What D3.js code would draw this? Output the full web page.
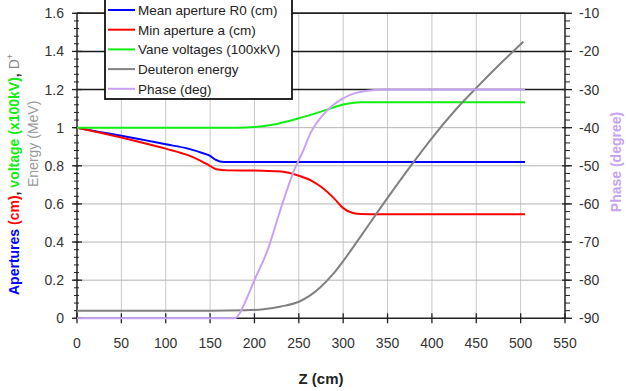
<!DOCTYPE html>
<html>
<head>
<meta charset="utf-8">
<script src="https://cdn.jsdelivr.net/npm/d3@7"></script>
<style>
  body { margin: 0; background: #fff; }
  svg { display: block; font-family: Arial, "Liberation Sans", sans-serif; }
</style>
</head>
<body>
<svg id="chart" width="626" height="391"></svg>
<script>
// data
const zMean = [0, 25, 50, 75, 100, 125, 142, 150, 156, 161, 170, 250, 350, 450, 505];
const meanR0 = [1.0, 0.978, 0.958, 0.936, 0.913, 0.89, 0.866, 0.852, 0.832, 0.823, 0.82, 0.82, 0.82, 0.82, 0.82];

const zMin = [0, 25, 50, 75, 100, 125, 140, 148, 157, 170, 200, 230, 250, 265, 275, 290, 300, 311, 320, 340, 505];
const minA = [1.0, 0.975, 0.948, 0.92, 0.89, 0.856, 0.825, 0.805, 0.782, 0.776, 0.775, 0.77, 0.748, 0.72, 0.69, 0.628, 0.578, 0.552, 0.547, 0.546, 0.546];

const zVane = [0, 180, 200, 220, 250, 275, 290, 300, 310, 320, 505];
const vane = [1.0, 1.0, 1.003, 1.015, 1.049, 1.084, 1.107, 1.122, 1.13, 1.133, 1.133];

const zEnergy = [0, 150, 190, 210, 230, 250, 262, 274, 289, 300, 313, 326.5, 351, 377, 401.6, 425, 450.4, 477, 503];
const energy = [0.04, 0.04, 0.042, 0.048, 0.062, 0.087, 0.118, 0.162, 0.234, 0.3, 0.385, 0.475, 0.638, 0.805, 0.955, 1.085, 1.21, 1.335, 1.451];

const zPhase = [0, 178, 185, 190, 200, 215, 230, 245, 255, 263, 275, 289, 300, 310, 325, 345, 505];
const phase = [-90, -90, -88, -85.5, -80, -72, -61, -51, -46, -41.5, -37.3, -34, -32.3, -31.2, -30.4, -30, -30];

const xTicks = d3.range(0, 551, 50);
const yTicks = [0, 0.2, 0.4, 0.6, 0.8, 1, 1.2, 1.4, 1.6];
const y2Ticks = [-90, -80, -70, -60, -50, -40, -30, -20, -10];

const legendLabels = ["Mean aperture R0 (cm)", "Min aperture a (cm)", "Vane voltages (100xkV)", "Deuteron energy", "Phase (deg)"];
const colors = ["#0000ff", "#ff0000", "#11ee11", "#808080", "#c8a2f2"];

const svg = d3.select("#chart");
const margin = { top: 13.3, right: 61, bottom: 72.7, left: 77 };
const width = 626 - margin.left - margin.right;
const height = 391 - margin.top - margin.bottom;

const chart = svg.append("g").attr("transform", `translate(${margin.left}, ${margin.top})`);

const x = d3.scaleLinear().domain([0, 550]).range([0, width]);
const y = d3.scaleLinear().domain([0, 1.6]).range([height, 0]);
const y2 = d3.scaleLinear().domain([-90, -10]).range([height, 0]);

/*grid*/
chart.append("g").selectAll("line").data(xTicks.slice(1, -1)).enter().append("line")
  .attr("x1", d => x(d)).attr("x2", d => x(d))
  .attr("y1", 0).attr("y2", height)
  .attr("stroke", "#c8c8c8").attr("stroke-width", 1);

chart.append("g").selectAll("line").data(yTicks.slice(1)).enter().append("line")
  .attr("x1", 0).attr("x2", width)
  .attr("y1", d => y(d)).attr("y2", d => y(d))
  .attr("stroke", d => d >= 1.2 ? "#1a1a1a" : "#b4b4b4")
  .attr("stroke-width", d => d >= 1.2 ? 1.5 : 1);

/*axes*/
const tickColor = "#222";
const labelColor = "#333";

// bottom
const xAxis = chart.append("g").attr("transform", `translate(0, ${height})`);
xAxis.append("line").attr("x1", 0).attr("x2", width).attr("stroke", tickColor).attr("stroke-width", 1.5);
xAxis.selectAll(".tk").data(xTicks).enter().append("line")
  .attr("x1", d => x(d)).attr("x2", d => x(d)).attr("y1", -5).attr("y2", 5)
  .attr("stroke", tickColor).attr("stroke-width", 1.3);
xAxis.selectAll("text").data(xTicks).enter().append("text")
  .attr("x", d => x(d)).attr("y", 30)
  .attr("text-anchor", "middle").attr("font-size", 14).attr("fill", labelColor)
  .text(d => d);

// left
const yAxis = chart.append("g");
yAxis.append("line").attr("y1", 0).attr("y2", height).attr("stroke", tickColor).attr("stroke-width", 1.5);
yAxis.selectAll(".mn").data(d3.range(0, 1.6001, 0.04)).enter().append("line")
  .attr("x1", -3).attr("x2", 2).attr("y1", d => y(d)).attr("y2", d => y(d))
  .attr("stroke", tickColor).attr("stroke-width", 1);
yAxis.selectAll(".mj").data(yTicks).enter().append("line")
  .attr("x1", -5).attr("x2", 5).attr("y1", d => y(d)).attr("y2", d => y(d))
  .attr("stroke", tickColor).attr("stroke-width", 1.3);
yAxis.selectAll("text").data(yTicks).enter().append("text")
  .attr("x", -13).attr("y", d => y(d)).attr("dy", "0.36em")
  .attr("text-anchor", "end").attr("font-size", 14).attr("fill", labelColor)
  .text(d => d3.format("~g")(d));

// right
const y2Axis = chart.append("g").attr("transform", `translate(${width}, 0)`);
y2Axis.append("line").attr("y1", 0).attr("y2", height).attr("stroke", tickColor).attr("stroke-width", 1.5);
y2Axis.selectAll(".mn").data(d3.range(-90, -9, 2)).enter().append("line")
  .attr("x1", 0).attr("x2", 5).attr("y1", d => y2(d)).attr("y2", d => y2(d))
  .attr("stroke", tickColor).attr("stroke-width", 1);
y2Axis.selectAll(".mj").data(y2Ticks).enter().append("line")
  .attr("x1", -3).attr("x2", 7).attr("y1", d => y2(d)).attr("y2", d => y2(d))
  .attr("stroke", tickColor).attr("stroke-width", 1.3);
y2Axis.selectAll("text").data(y2Ticks).enter().append("text")
  .attr("x", 14).attr("y", d => y2(d)).attr("dy", "0.36em")
  .attr("text-anchor", "start").attr("font-size", 14).attr("fill", labelColor)
  .text(d => d);

// top border
chart.append("line").attr("x1", 0).attr("x2", width).attr("y1", 0).attr("y2", 0)
  .attr("stroke", tickColor).attr("stroke-width", 1.5);

/*series*/
const series = [
  { z: zMean, v: meanR0, scale: y },
  { z: zMin, v: minA, scale: y },
  { z: zVane, v: vane, scale: y },
  { z: zEnergy, v: energy, scale: y },
  { z: zPhase, v: phase, scale: y2 }
];

series.forEach((s, i) => {
  const line = d3.line()
    .x(d => x(d[0]))
    .y(d => s.scale(d[1]))
    .curve(d3.curveMonotoneX);
  chart.append("path")
    .datum(d3.zip(s.z, s.v))
    .attr("fill", "none")
    .attr("stroke", colors[i])
    .attr("stroke-width", 2)
    .attr("d", line);
});

/*legend*/
const legend = svg.append("g");
legend.append("rect")
  .attr("x", 105).attr("y", -1).attr("width", 187).attr("height", 100)
  .attr("fill", "#fff").attr("stroke", "#111").attr("stroke-width", 1.8);
legendLabels.forEach((t, i) => {
  const yy = 10 + i * 19.7;
  legend.append("line")
    .attr("x1", 108).attr("x2", 135).attr("y1", yy).attr("y2", yy)
    .attr("stroke", colors[i]).attr("stroke-width", 2);
  legend.append("text")
    .attr("x", 138).attr("y", yy).attr("dy", "0.36em")
    .attr("font-size", 13.5).attr("fill", "#222")
    .text(t);
});

/*axis titles*/
svg.append("text")
  .attr("x", 321).attr("y", 384)
  .attr("text-anchor", "middle").attr("font-size", 15).attr("font-weight", "bold").attr("fill", "#222")
  .text("Z (cm)");

const t1 = svg.append("text")
  .attr("transform", "translate(19, 295) rotate(-90)")
  .attr("font-size", 14);
t1.append("tspan").attr("font-weight", "bold").attr("fill", "#0000ff").text("Apertures ");
t1.append("tspan").attr("font-weight", "bold").attr("fill", "#ff0000").text("(cm)");
t1.append("tspan").attr("font-weight", "bold").attr("fill", "#333").text(", ");
t1.append("tspan").attr("font-weight", "bold").attr("fill", "#11ee11").text("voltage (x100kV)");
t1.append("tspan").attr("font-weight", "bold").attr("fill", "#333").text(", ");
t1.append("tspan").attr("fill", "#888").text("D");
t1.append("tspan").attr("fill", "#888").attr("font-size", 9).attr("dy", -6).text("+");

svg.append("text")
  .attr("transform", "translate(38, 187) rotate(-90)")
  .attr("font-size", 14).attr("fill", "#999")
  .text("Energy (MeV)");

svg.append("text")
  .attr("transform", "translate(621, 162) rotate(-90)")
  .attr("text-anchor", "middle").attr("font-size", 14).attr("font-weight", "bold").attr("fill", "#c8a2f2")
  .text("Phase (degree)");
</script>
</body>
</html>
